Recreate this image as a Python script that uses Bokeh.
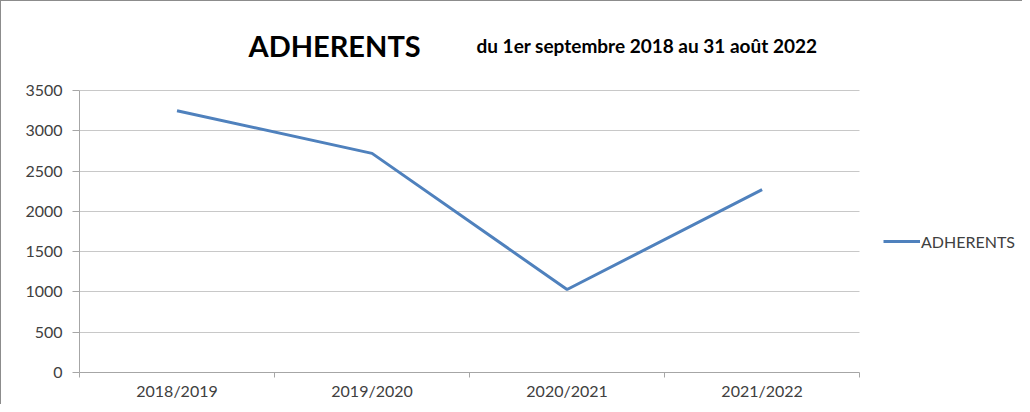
from bokeh.plotting import figure
from bokeh.models import (ColumnDataSource, Label, Legend, LegendItem, FixedTicker,
                          Range1d)
from bokeh.embed import file_html
from bokeh.resources import INLINE

# ---- data ----
seasons = ["2018/2019", "2019/2020", "2020/2021", "2021/2022"]
adherents = [3250, 2720, 1030, 2270]
y_ticks = [0, 500, 1000, 1500, 2000, 2500, 3000, 3500]
title_text = "ADHERENTS"
subtitle_text = "du 1er septembre 2018 au 31 août 2022"
series_name = "ADHERENTS"

n = len(seasons)
xs = [i + 0.5 for i in range(n)]
src = ColumnDataSource(dict(x=xs, y=adherents, season=seasons))

FONT = "Lato"
# the frame is extended above the 3500 line and to the right of the last
# category so that the titles and the legend can sit inside it
p = figure(width=1022, height=404, output_backend="svg", toolbar_location=None,
           x_range=Range1d(0, 4.83), y_range=Range1d(0, 4245),
           min_border_left=78, min_border_right=2, min_border_top=29,
           min_border_bottom=33)
p.outline_line_color = None
p.background_fill_color = "white"
p.border_fill_color = "white"

line = p.line("x", "y", source=src, line_color="#4F81BD", line_width=3)

# x axis: labels at category centres, ticks at category boundaries
p.xaxis.ticker = FixedTicker(ticks=xs, minor_ticks=list(range(n + 1)))
p.xaxis.bounds = (0, n)
p.xaxis.major_label_overrides = {x: s for x, s in zip(xs, seasons)}
p.xaxis.major_tick_in = 0
p.xaxis.major_tick_out = 0
p.xaxis.minor_tick_in = 0
p.xaxis.minor_tick_out = 5
p.xaxis.minor_tick_line_color = "#A6A6A6"
p.xaxis.axis_line_color = "#A6A6A6"
p.xaxis.major_label_standoff = 3
p.xgrid.grid_line_color = None

p.yaxis.ticker = FixedTicker(ticks=y_ticks)
p.yaxis.bounds = (y_ticks[0], y_ticks[-1])
p.yaxis.major_tick_in = 0
p.yaxis.major_tick_out = 7
p.yaxis.major_tick_line_color = "#A6A6A6"
p.yaxis.minor_tick_line_color = None
p.yaxis.axis_line_color = "#A6A6A6"
p.yaxis.major_label_standoff = 10
p.ygrid.grid_line_color = "#C8C8C8"
p.ygrid.cross_bounds = (0, n)

for ax in (p.xaxis, p.yaxis):
    ax.major_label_text_font = FONT
    ax.major_label_text_font_size = "16px"
    ax.major_label_text_color = "#404040"

p.add_layout(Label(x=169, y=327, x_units="screen", y_units="screen", text=title_text,
                   text_font=FONT, text_font_style="bold", text_font_size="29px",
                   text_color="black", text_baseline="alphabetic"))
p.add_layout(Label(x=397, y=327, x_units="screen", y_units="screen", text=subtitle_text,
                   text_font=FONT, text_font_style="bold", text_font_size="19px",
                   text_color="black", text_baseline="alphabetic"))

legend = Legend(items=[LegendItem(label=series_name, renderers=[line])],
                location=(804, 121), padding=0, margin=0, spacing=0,
                glyph_width=37, glyph_height=20, label_standoff=1,
                border_line_color=None, background_fill_alpha=0,
                label_text_font=FONT, label_text_font_size="16px",
                label_text_color="#404040")
p.add_layout(legend, "center")

p.styles = {"border-top": "1px solid #8C8C8C", "border-left": "1px solid #8C8C8C"}

open("out.html", "w").write(file_html(p, INLINE))
